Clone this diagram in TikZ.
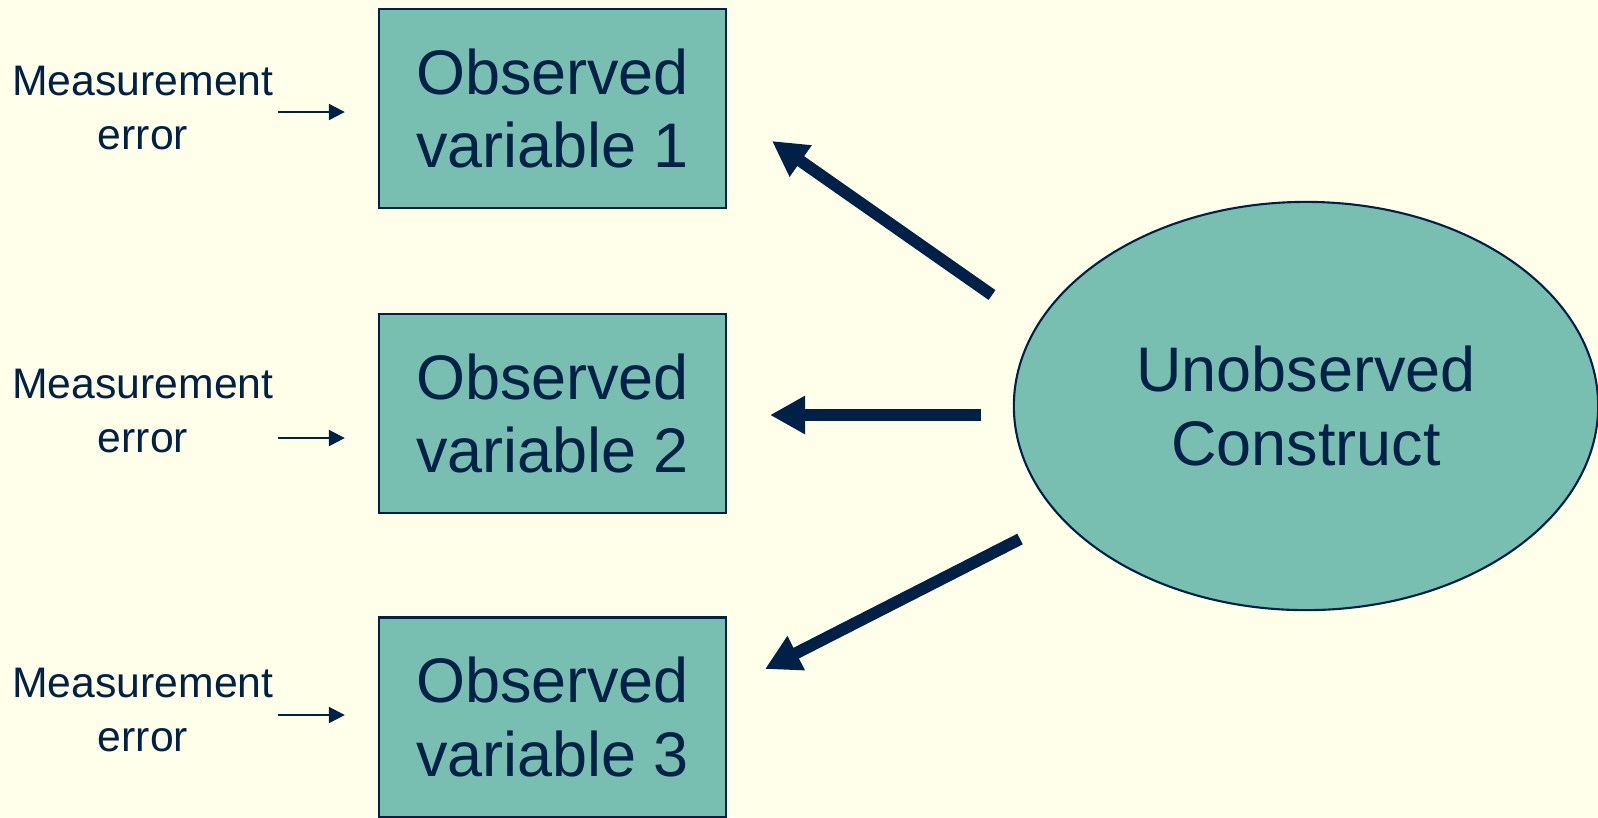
\documentclass[tikz,border=0pt]{standalone}
\usepackage{fontspec}
\setmainfont{Liberation Sans}
\usetikzlibrary{arrows.meta,shapes.geometric}
\definecolor{paper}{HTML}{FFFFEA}
\definecolor{boxfill}{HTML}{78BFB2}
\definecolor{navy}{HTML}{002147}
\tikzset{
	observed/.style={draw=navy, line width=0.6pt, fill=boxfill, text=navy, align=center,
		minimum width=3.47cm, minimum height=1.99cm, inner sep=0pt,
		font=\fontsize{17.9}{20.8}\selectfont},
	latent/.style={ellipse, draw=navy, line width=0.6pt, fill=boxfill, text=navy, align=center,
		minimum width=5.84cm, minimum height=4.08cm, inner sep=0pt,
		font=\fontsize{17.9}{20.8}\selectfont},
	errtext/.style={text=navy, align=center, inner sep=0pt,
		font=\fontsize{12.15}{15.1}\selectfont},
	errarrow/.style={draw=navy, line width=0.6pt, -{Triangle[length=0.16cm,width=0.16cm]}},
	loading/.style={draw=navy, line width=3.4pt, -{Triangle[length=0.35cm,width=0.36cm]}}
}
\begin{document}
\begin{tikzpicture}[x=0.01cm, y=-0.01cm]
	\fill[paper] (0,0) rectangle (1598,817);
	\useasboundingbox (0,0) rectangle (1598,817);

	\node[observed] (obs1) at (552.5,108.5) {Observed\\variable 1};
	\node[observed] (obs2) at (552.5,413.5) {Observed\\variable 2};
	\node[observed] (obs3) at (552.5,717) {Observed\\variable 3};
	\node[latent] (construct) at (1306,406) {Unobserved\\Construct};

	\node[errtext] (err1) at (143,108) {Measurement\\error};
	\node[errtext] (err2) at (143,411) {Measurement\\error};
	\node[errtext] (err3) at (143,710) {Measurement\\error};

	% error arrows
	\coordinate (e1) at (278,112);
	\coordinate (e2) at (278,438);
	\coordinate (e3) at (278,715);
	\draw[errarrow, shorten >=0.33cm] (e1) -- (obs1.west |- e1);
	\draw[errarrow, shorten >=0.33cm] (e2) -- (obs2.west |- e2);
	\draw[errarrow, shorten >=0.33cm] (e3) -- (obs3.west |- e3);

	% loadings
	\coordinate (s1) at (992,295);  \coordinate (t1) at (772,141);
	\coordinate (s2) at (981,415);  \coordinate (t2) at (770,415);
	\coordinate (s3) at (1020,539); \coordinate (t3) at (765,669);
	\draw[loading] (s1) -- (t1);
	\draw[loading] (s2) -- (t2);
	\draw[loading] (s3) -- (t3);
\end{tikzpicture}
\end{document}
